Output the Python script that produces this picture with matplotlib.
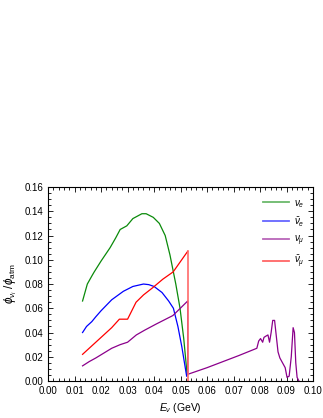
import numpy as np
import matplotlib
matplotlib.use('Agg')
import matplotlib.pyplot as plt
from matplotlib.ticker import MultipleLocator

plt.rcParams['font.family'] = ['Liberation Sans', 'DejaVu Sans']
plt.rcParams['mathtext.fontset'] = 'custom'
plt.rcParams['mathtext.rm'] = 'Liberation Sans'
plt.rcParams['mathtext.it'] = 'Liberation Sans:italic'

# data
nue_x = [0.013, 0.0148, 0.0166, 0.0174, 0.020, 0.0234, 0.0255, 0.0272, 0.0297, 0.032,
         0.0354, 0.037, 0.0397, 0.042, 0.0442, 0.046, 0.0482, 0.0498, 0.0512, 0.0525]
nue_y = [0.066, 0.080, 0.087, 0.090, 0.099, 0.110, 0.118, 0.125, 0.128, 0.134,
         0.138, 0.138, 0.135, 0.130, 0.120, 0.104, 0.080, 0.060, 0.035, 0.005]

nuebar_x = [0.013, 0.0145, 0.0165, 0.018, 0.020, 0.024, 0.0284, 0.032, 0.036, 0.038,
            0.040, 0.043, 0.0455, 0.0473, 0.049, 0.0505, 0.0523]
nuebar_y = [0.040, 0.045, 0.049, 0.053, 0.058, 0.067, 0.074, 0.078, 0.080, 0.0795,
            0.078, 0.073, 0.066, 0.060, 0.045, 0.028, 0.004]

numu_x = [0.013, 0.0155, 0.018, 0.021, 0.024, 0.0272, 0.030, 0.0333, 0.0365, 0.0408,
          0.0471, 0.0527, 0.0527, 0.060, 0.066, 0.072, 0.0788, 0.0795, 0.0802, 0.081,
          0.0815, 0.0822, 0.083, 0.0836, 0.0842, 0.0848, 0.0855, 0.0862, 0.0868, 0.0875,
          0.0885, 0.0895, 0.0902, 0.091, 0.0918, 0.0925, 0.093, 0.0935, 0.094, 0.0947]
numu_y = [0.0125, 0.016, 0.019, 0.023, 0.027, 0.030, 0.032, 0.038, 0.042, 0.047,
          0.054, 0.066, 0.0055, 0.011, 0.016, 0.021, 0.027, 0.033, 0.035, 0.032,
          0.036, 0.037, 0.038, 0.032, 0.040, 0.050, 0.050, 0.036, 0.024, 0.019,
          0.015, 0.011, 0.003, 0.004, 0.020, 0.044, 0.040, 0.015, 0.003, 0.0]

numubar_x = [0.013, 0.0155, 0.017, 0.020, 0.024, 0.0269, 0.030, 0.0332, 0.036, 0.0395,
             0.0433, 0.0472, 0.0527, 0.0527]
numubar_y = [0.022, 0.027, 0.030, 0.036, 0.044, 0.051, 0.051, 0.065, 0.071, 0.077,
             0.084, 0.090, 0.107, 0.0]

colors = ['#0a8a0a', '#0000ff', '#8b008b', '#ff0000']

fig = plt.figure(figsize=(3.23, 4.18), dpi=100)
ax = fig.add_axes([0.149, 0.0885, 0.82, 0.464])

ax.plot(nue_x, nue_y, color=colors[0], lw=0.9)
ax.plot(nuebar_x, nuebar_y, color=colors[1], lw=0.9)
ax.plot(numu_x, numu_y, color=colors[2], lw=0.9)
ax.plot(numubar_x[:-1], numubar_y[:-1], color=colors[3], lw=0.9)
ax.plot(numubar_x[-2:], numubar_y[-2:], color='#ff6a6a', lw=1.2)

# legend drawn with lighter handles
handles = [plt.Line2D([], [], color=c, lw=1.3, alpha=0.6) for c in colors]
labels = [r'$\nu_e$', r'$\bar{\nu}_e$', r'$\nu_\mu$', r'$\bar{\nu}_\mu$']
ax.legend(handles, labels, loc='upper right', frameon=False, fontsize=7,
          handlelength=2.7, handletextpad=0.5, labelspacing=0.55,
          bbox_to_anchor=(1.0, 0.99))

ax.set_xlim(0, 0.10)
ax.set_ylim(0, 0.16)
ax.xaxis.set_major_locator(MultipleLocator(0.01))
ax.xaxis.set_minor_locator(MultipleLocator(0.002))
ax.yaxis.set_major_locator(MultipleLocator(0.02))
ax.yaxis.set_minor_locator(MultipleLocator(0.005))
ax.xaxis.set_major_formatter(plt.FormatStrFormatter('%.2f'))
ax.yaxis.set_major_formatter(plt.FormatStrFormatter('%.2f'))
ax.tick_params(which='both', direction='in', top=True, right=True, labelsize=7, width=0.6)
ax.tick_params(which='major', length=3.5)
ax.tick_params(which='minor', length=2)
for s in ax.spines.values():
    s.set_linewidth(0.8)

ax.set_xlabel(r'$E_\nu$ (GeV)', fontsize=7.5)
ax.set_ylabel(r'$\phi_{\nu_i}\ /\phi_{\rm atm}$', fontsize=8.5)

fig.savefig('out.png', dpi=100)
